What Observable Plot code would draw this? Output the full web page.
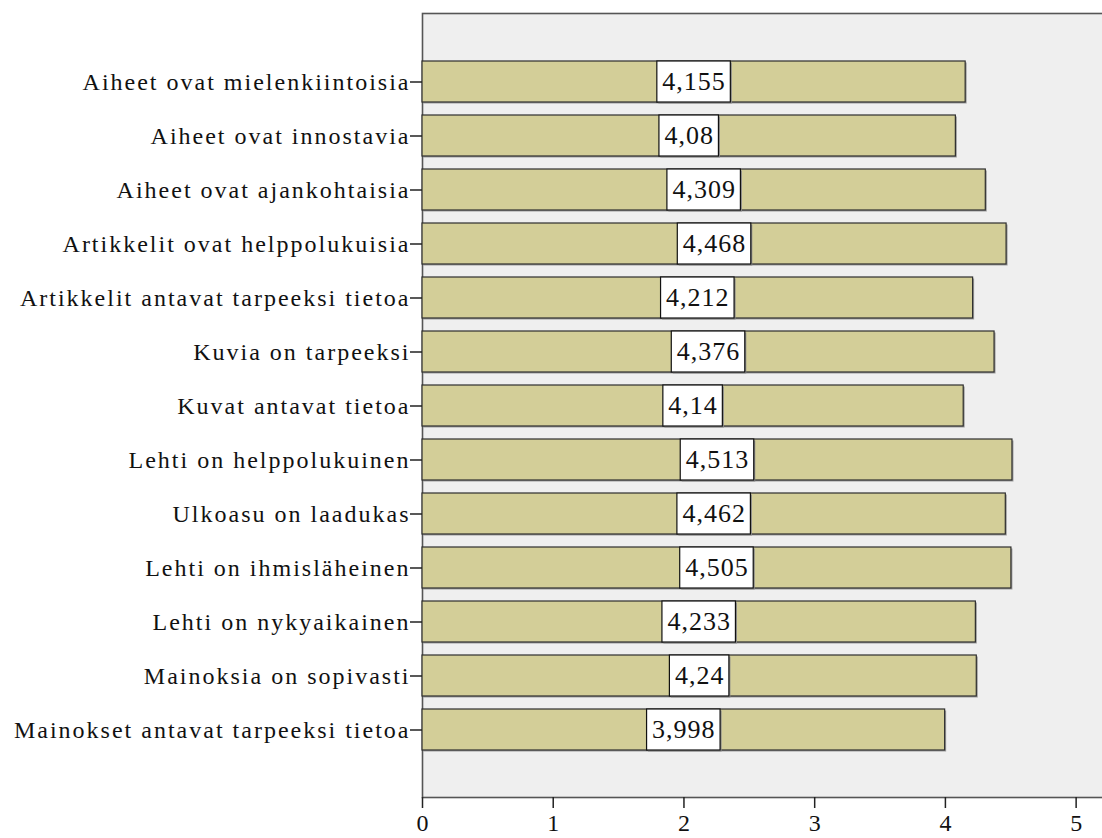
<!DOCTYPE html>
<html>
<head>
<meta charset="utf-8">
<script src="https://cdn.jsdelivr.net/npm/d3@7"></script>
<script src="https://cdn.jsdelivr.net/npm/@observablehq/plot@0.6"></script>
<style>
  html, body { margin: 0; padding: 0; background: #ffffff; }
  #chart { width: 1102px; height: 838px; overflow: hidden; }
  #chart svg { max-width: none !important; }
  #chart g[aria-label="y-axis tick label"] text { letter-spacing: 2px; }
  #chart g[aria-label="text"] text { letter-spacing: 1px; }
</style>
</head>
<body>
<div id="chart"></div>
<script>
const categories = [
  "Aiheet ovat mielenkiintoisia",
  "Aiheet ovat innostavia",
  "Aiheet ovat ajankohtaisia",
  "Artikkelit ovat helppolukuisia",
  "Artikkelit antavat tarpeeksi tietoa",
  "Kuvia on tarpeeksi",
  "Kuvat antavat tietoa",
  "Lehti on helppolukuinen",
  "Ulkoasu on laadukas",
  "Lehti on ihmisläheinen",
  "Lehti on nykyaikainen",
  "Mainoksia on sopivasti",
  "Mainokset antavat tarpeeksi tietoa"
];
const values = [4.155, 4.08, 4.309, 4.468, 4.212, 4.376, 4.14, 4.513, 4.462, 4.505, 4.233, 4.24, 3.998];
const valueLabels = ["4,155", "4,08", "4,309", "4,468", "4,212", "4,376", "4,14", "4,513", "4,462", "4,505", "4,233", "4,24", "3,998"];
const xTicks = [0, 1, 2, 3, 4, 5];

const FONT = "'Liberation Serif', serif";
const labelFontSize = 26;

const width = 1106, marginLeft = 422, marginRight = 2;
const xMax = 5.217;
const k = (width - marginLeft - marginRight) / xMax;

const canvas = document.createElement("canvas");
const ctx = canvas.getContext("2d");
ctx.font = `${labelFontSize}px 'Liberation Serif'`;

const data = categories.map((c, i) => {
  const w = ctx.measureText(valueLabels[i]).width + valueLabels[i].length * 1 + 10;
  return {c, v: values[i], label: valueLabels[i], half: (w / 2) / k};
});

const chart = Plot.plot({
  width,
  height: 838,
  marginLeft,
  marginRight,
  marginTop: 13,
  marginBottom: 41,
  style: {fontFamily: FONT, background: "transparent", color: "#111"},
  x: {domain: [0, xMax], ticks: xTicks, label: null},
  y: {domain: categories, paddingInner: 0.243, paddingOuter: 0.857, label: null},
  marks: [
    Plot.frame({fill: "#efefef", stroke: "#555", strokeWidth: 1.6}),
    Plot.barX(data, {y: "c", x1: 0, x2: "v", fill: "#3a3a3a", dx: 1.5, dy: 1.5, fillOpacity: 0.45}),
    Plot.barX(data, {y: "c", x1: 0, x2: "v", fill: "#d3ce98", stroke: "#2e2e2e", strokeWidth: 1.2}),
    Plot.barX(data, {y: "c", x1: d => d.v / 2 - d.half, x2: d => d.v / 2 + d.half, fill: "#888", dx: 1.5, dy: 1.5}),
    Plot.barX(data, {y: "c", x1: d => d.v / 2 - d.half, x2: d => d.v / 2 + d.half, fill: "#ffffff", stroke: "#111", strokeWidth: 1.2}),
    Plot.text(data, {y: "c", x: d => d.v / 2, text: "label", fontSize: labelFontSize, fill: "#111"}),
    Plot.axisY({tickSize: 12, tickPadding: 0, fontSize: 24, stroke: "#222", strokeWidth: 1.5, label: null}),
    Plot.axisX({ticks: xTicks, tickSize: 11, tickPadding: 5, fontSize: 24, stroke: "#222", strokeWidth: 1.5, tickFormat: d => String(d), label: null})
  ]
});
document.getElementById("chart").appendChild(chart);
</script>
</body>
</html>
